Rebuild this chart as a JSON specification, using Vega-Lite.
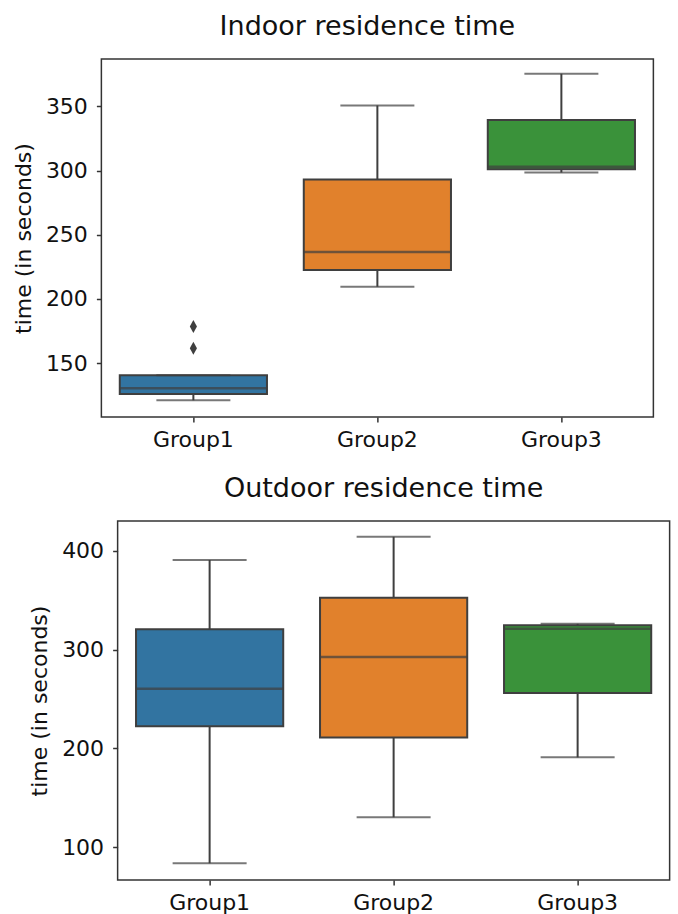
{
  "$schema": "https://vega.github.io/schema/vega-lite/v6.json",
  "padding": {"left": 11, "top": 12, "right": 0, "bottom": 0},
  "background": "white",
  "config": {
    "font": "DejaVu Sans",
    "view": {"stroke": "#333333", "strokeWidth": 1.5},
    "axis": {
      "labelFont": "DejaVu Sans", "labelFontSize": 22, "labelColor": "#111111",
      "titleFont": "DejaVu Sans", "titleFontSize": 22, "titleFontWeight": "normal", "titleColor": "#111111",
      "tickColor": "#333333", "tickSize": 5, "tickWidth": 1.5,
      "domain": false, "grid": false, "labelPadding": 9
    },
    "axisX": {"labelPadding": 7},
    "title": {"font": "DejaVu Sans", "fontSize": 27, "fontWeight": "normal", "color": "#111111", "offset": 18}
  },
  "datasets": {
    "indoor": [
      {"group": "Group1", "lower": 121, "q1": 126, "median": 130.5, "q3": 140.5, "upper": 140.5},
      {"group": "Group2", "lower": 209.5, "q1": 222.5, "median": 236.5, "q3": 293, "upper": 350.8},
      {"group": "Group3", "lower": 298.5, "q1": 301, "median": 303, "q3": 339.5, "upper": 375.5}
    ],
    "indoorOut": [
      {"group": "Group1", "value": 178.5},
      {"group": "Group1", "value": 161.5}
    ],
    "outdoor": [
      {"group": "Group1", "lower": 84, "q1": 222.5, "median": 260.5, "q3": 320.5, "upper": 390.5},
      {"group": "Group2", "lower": 130.5, "q1": 211, "median": 292.5, "q3": 352.5, "upper": 414},
      {"group": "Group3", "lower": 191, "q1": 256, "median": 321, "q3": 324.5, "upper": 326}
    ]
  },
  "center": true,
  "spacing": 23,
  "vconcat": [
    {
      "title": {"text": "Indoor residence time", "dx": -10},
      "width": 552,
      "height": 358,
      "layer": [
        {
          "data": {"name": "indoor"},
          "encoding": {
            "x": {"field": "group", "type": "nominal", "title": null,
                  "scale": {"domain": ["Group1", "Group2", "Group3"], "paddingInner": 0.2, "paddingOuter": 0.1},
                  "axis": {"labelAngle": 0}}
          },
          "layer": [
            {"mark": {"type": "rule", "color": "#3f3f3f", "strokeWidth": 2},
             "encoding": {
               "y": {"field": "lower", "type": "quantitative", "title": "time (in seconds)",
                     "scale": {"domain": [108, 387], "nice": false, "zero": false},
                     "axis": {"values": [150, 200, 250, 300, 350], "titlePadding": 10}},
               "y2": {"field": "upper"}
             }},
            {"mark": {"type": "bar", "stroke": "#3f3f3f", "strokeWidth": 2},
             "encoding": {
               "y": {"field": "q1", "type": "quantitative"},
               "y2": {"field": "q3"},
               "color": {"field": "group", "type": "nominal", "legend": null,
                         "scale": {"domain": ["Group1", "Group2", "Group3"], "range": ["#3274a1", "#e1812c", "#3a923a"]}}
             }},
            {"mark": {"type": "tick", "size": 74, "thickness": 2, "color": "#3f3f3f"},
             "encoding": {"y": {"field": "lower", "type": "quantitative"}}},
            {"mark": {"type": "tick", "size": 74, "thickness": 2, "color": "#3f3f3f"},
             "encoding": {"y": {"field": "upper", "type": "quantitative"}}},
            {"mark": {"type": "tick", "size": 147, "thickness": 2.5, "color": "#3f3f3f"},
             "encoding": {"y": {"field": "median", "type": "quantitative"}}}
          ]
        },
        {
          "data": {"name": "indoorOut"},
          "mark": {"type": "point", "shape": "M0,-1L0.55,0L0,1L-0.55,0Z", "filled": true, "size": 170, "color": "#3f3f3f", "opacity": 1},
          "encoding": {
            "x": {"field": "group", "type": "nominal", "title": null,
                  "scale": {"domain": ["Group1", "Group2", "Group3"], "paddingInner": 0.2, "paddingOuter": 0.1},
                  "axis": {"labelAngle": 0}},
            "y": {"field": "value", "type": "quantitative", "title": null,
                  "scale": {"domain": [108, 387], "nice": false, "zero": false},
                  "axis": {"orient": "right", "values": [300], "labels": false, "ticks": true,
                           "tickSize": 30, "tickWidth": 1, "tickColor": "#ffffff", "offset": 2, "domain": false}}
          }
        }
      ],
      "resolve": {"scale": {"y": "independent"}}
    },
    {
      "title": {"text": "Outdoor residence time", "dx": -10},
      "width": 552,
      "height": 359,
      "data": {"name": "outdoor"},
      "encoding": {
        "x": {"field": "group", "type": "nominal", "title": null,
              "scale": {"domain": ["Group1", "Group2", "Group3"], "paddingInner": 0.2, "paddingOuter": 0.1},
              "axis": {"labelAngle": 0}}
      },
      "layer": [
        {"mark": {"type": "rule", "color": "#3f3f3f", "strokeWidth": 2},
         "encoding": {
           "y": {"field": "lower", "type": "quantitative", "title": "time (in seconds)",
                 "scale": {"domain": [67, 430], "nice": false, "zero": false},
                 "axis": {"values": [100, 200, 300, 400], "titlePadding": 10}},
           "y2": {"field": "upper"}
         }},
        {"mark": {"type": "bar", "stroke": "#3f3f3f", "strokeWidth": 2},
         "encoding": {
           "y": {"field": "q1", "type": "quantitative"},
           "y2": {"field": "q3"},
           "color": {"field": "group", "type": "nominal", "legend": null,
                     "scale": {"domain": ["Group1", "Group2", "Group3"], "range": ["#3274a1", "#e1812c", "#3a923a"]}}
         }},
        {"mark": {"type": "tick", "size": 74, "thickness": 2, "color": "#3f3f3f"},
         "encoding": {"y": {"field": "lower", "type": "quantitative"}}},
        {"mark": {"type": "tick", "size": 74, "thickness": 2, "color": "#3f3f3f"},
         "encoding": {"y": {"field": "upper", "type": "quantitative"}}},
        {"mark": {"type": "tick", "size": 147, "thickness": 2.5, "color": "#3f3f3f"},
         "encoding": {"y": {"field": "median", "type": "quantitative"}}}
      ]
    }
  ]
}
